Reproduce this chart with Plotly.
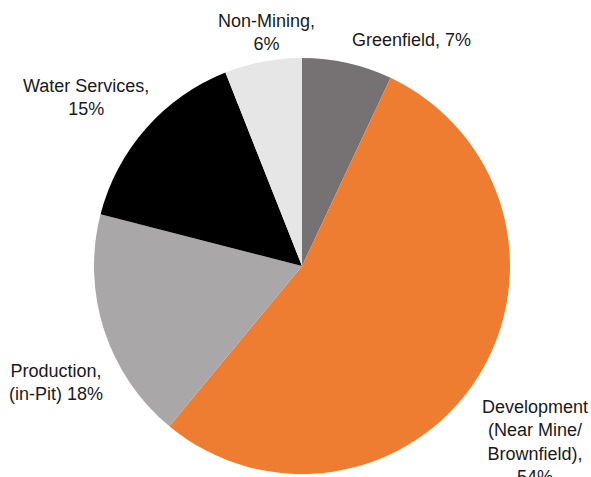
import plotly.graph_objects as go

labels = ["Greenfield", "Development (Near Mine/Brownfield)", "Production (in-Pit)", "Water Services", "Non-Mining"]
values = [7, 54, 18, 15, 6]
colors = ["#767273", "#ee7d31", "#a9a7a8", "#000000", "#e6e6e6"]
label_texts = [
    "Greenfield, 7%",
    "Development<br>(Near Mine/<br>Brownfield),<br>54%",
    "Production,<br>(in-Pit) 18%",
    "Water Services,<br>15%",
    "Non-Mining,<br>6%",
]
# label anchor positions in pixels (x, y from top)
label_pos = [(411, 40), (535, 442), (56, 382), (86, 97), (266, 32)]

W, H = 591, 477

fig = go.Figure(go.Pie(
    labels=labels,
    values=values,
    marker=dict(colors=colors, line=dict(width=0)),
    sort=False,
    direction="clockwise",
    rotation=0,
    textinfo="none",
    hoverinfo="label+percent",
    showlegend=False,
    domain=dict(x=[94 / W, 510 / W], y=[3 / H, 419 / H]),
))

for txt, (px, py) in zip(label_texts, label_pos):
    fig.add_annotation(
        x=px / W, y=1 - py / H, xref="paper", yref="paper",
        text=txt, showarrow=False, xanchor="center", yanchor="middle",
        align="center",
        font=dict(family="Liberation Sans, Arial, sans-serif", size=18, color="#1a1a1a"),
    )

fig.update_layout(
    width=W, height=H,
    margin=dict(l=0, r=0, t=0, b=0),
    paper_bgcolor="white",
    plot_bgcolor="white",
)

fig.write_html(
    "out.html",
    config={"displayModeBar": False},
    post_script="document.body.style.margin='0';document.body.style.overflow='hidden';",
)
